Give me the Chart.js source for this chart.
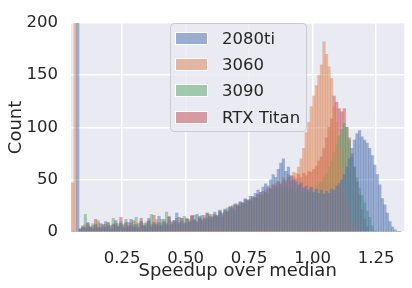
<!DOCTYPE html>
<html>
<head>
<meta charset="utf-8">
<script src="https://cdn.jsdelivr.net/npm/chart.js@4/dist/chart.umd.min.js"></script>
<style>
  body { margin: 0; background: #fff; }
  #wrap { position: relative; width: 412px; height: 288px; }
  #legend {
    position: absolute; left: 170px; top: 23px; width: 137px; height: 109px;
    box-sizing: border-box; padding-top: 1px;
    background: rgba(234, 234, 242, 0.8); border: 1px solid #cccccc; border-radius: 4px;
    font-family: 'DejaVu Sans', sans-serif; font-size: 16.5px; color: #262626;
  }
  .row { display: flex; align-items: center; height: 26.3px; }
  .patch { width: 31px; height: 11px; margin-left: 4px; margin-right: 14px; border: 1px solid #fff; }
</style>
</head>
<body>
<div id="wrap">
  <canvas id="histChart" width="412" height="288"></canvas>
  <div id="legend"></div>
</div>
<script>
// histogram bins: 0.05 .. 1.35, width 0.01
const binStart = 0.05;
const binWidth = 0.01;
const xTicks = [0.25, 0.5, 0.75, 1.0, 1.25];
const yTicks = [0, 50, 100, 150, 200];

const gpus = ['2080ti', '3060', '3090', 'RTX Titan'];
const gpuColors = ['76, 114, 176', '221, 132, 82', '85, 168, 104', '196, 78, 82'];

const counts2080ti = [
  0, 0, 260, 3, 6, 4, 9, 5, 3, 7,
  4, 8, 5, 10, 6, 3, 7, 11, 5, 8,
  4, 9, 6, 12, 5, 7, 4, 10, 6, 8,
  13, 5, 9, 7, 15, 6, 10, 8, 14, 7,
  11, 18, 9, 13, 8, 12, 10, 15, 11, 17,
  13, 16, 12, 18, 15, 14, 19, 16, 21, 18,
  22, 20, 24, 23, 27, 25, 29, 28, 31, 30,
  34, 33, 37, 40, 38, 43, 46, 44, 50, 55,
  52, 60, 66, 70, 58, 62, 54, 50, 48, 45,
  47, 42, 44, 40, 43, 38, 41, 37, 40, 36,
  39, 37, 41, 40, 44, 46, 50, 55, 62, 70,
  80, 88, 94, 97, 91, 88, 85, 80, 73, 64,
  55, 45, 32, 26, 18, 10, 5, 2, 0, 0
];
const counts3060 = [
  47, 260, 0, 2, 4, 7, 3, 5, 2, 6,
  9, 4, 3, 7, 5, 2, 8, 4, 6, 3,
  5, 8, 4, 6, 3, 9, 5, 7, 4, 10,
  6, 8, 5, 12, 7, 4, 9, 6, 11, 8,
  7, 10, 6, 13, 9, 12, 8, 15, 11, 9,
  14, 12, 16, 10, 13, 17, 15, 12, 18, 16,
  20, 18, 22, 25, 21, 27, 24, 28, 26, 30,
  29, 33, 31, 35, 38, 34, 40, 37, 42, 44,
  46, 48, 45, 52, 50, 55, 53, 57, 56, 62,
  70, 80, 95, 105, 120, 130, 140, 150, 160, 182,
  170, 158, 147, 120, 105, 80, 60, 42, 28, 18,
  10, 5, 2, 0, 0, 0, 0, 0, 0, 0,
  0, 0, 0, 0, 0, 0, 0, 0, 0, 0
];
const counts3090 = [
  0, 0, 0, 1, 4, 17, 6, 3, 8, 5,
  11, 4, 7, 3, 9, 6, 13, 5, 8, 10,
  6, 12, 4, 9, 7, 14, 5, 10, 8, 6,
  11, 17, 7, 9, 5, 12, 8, 19, 6, 10,
  9, 13, 7, 11, 15, 8, 12, 10, 16, 9,
  14, 11, 13, 18, 12, 15, 17, 14, 20, 16,
  19, 23, 21, 25, 20, 26, 24, 28, 27, 31,
  30, 29, 33, 32, 36, 35, 38, 37, 40, 39,
  42, 40, 44, 41, 43, 39, 42, 40, 38, 41,
  39, 37, 40, 38, 42, 40, 44, 46, 48, 52,
  56, 62, 68, 76, 84, 92, 98, 104, 100, 88,
  72, 62, 52, 42, 35, 28, 20, 14, 6, 1,
  0, 0, 0, 0, 0, 0, 0, 0, 0, 0
];
const countsTitan = [
  0, 0, 0, 3, 5, 2, 8, 4, 6, 12,
  5, 3, 7, 4, 9, 6, 3, 8, 5, 14,
  7, 4, 9, 6, 11, 5, 8, 13, 6, 4,
  10, 7, 16, 5, 9, 8, 12, 6, 15, 9,
  11, 8, 14, 10, 7, 13, 9, 16, 12, 10,
  15, 11, 14, 13, 17, 12, 16, 15, 19, 14,
  21, 19, 24, 22, 26, 25, 28, 27, 32, 29,
  31, 34, 33, 36, 35, 39, 38, 42, 41, 45,
  44, 48, 46, 50, 47, 52, 49, 53, 51, 55,
  52, 56, 54, 58, 57, 60, 63, 68, 72, 80,
  90, 100, 108, 130, 124, 118, 115, 118, 100, 90,
  75, 62, 48, 35, 22, 12, 5, 0, 0, 0,
  0, 0, 0, 0, 0, 0, 0, 0, 0, 0
];
const allCounts = [counts2080ti, counts3060, counts3090, countsTitan];

const toPoints = arr => arr.map((v, i) => ({ x: binStart + binWidth * (i + 0.5), y: v }));

const plotBackground = {
  id: 'plotBackground',
  beforeDraw(chart) {
    const { ctx, chartArea: a } = chart;
    ctx.save();
    ctx.fillStyle = '#eaeaf2';
    ctx.fillRect(a.left, a.top, a.right - a.left, a.bottom - a.top);
    ctx.restore();
  }
};

Chart.defaults.font.family = "'DejaVu Sans', sans-serif";
Chart.defaults.color = '#262626';

const ctx = document.getElementById('histChart').getContext('2d');
new Chart(ctx, {
  type: 'bar',
  data: {
    datasets: gpus.map((name, k) => ({
      label: name,
      data: toPoints(allCounts[k]),
      backgroundColor: 'rgba(' + gpuColors[k] + ', 0.5)',
      borderWidth: 0,
      barPercentage: 1,
      categoryPercentage: 1,
      grouped: false
    }))
  },
  options: {
    responsive: false,
    animation: false,
    layout: { padding: { top: 14, right: 7, left: 0, bottom: 0 } },
    plugins: { legend: { display: false }, tooltip: { enabled: false } },
    scales: {
      x: {
        type: 'linear',
        offset: false,
        min: 0.0484,
        max: 1.3612,
        afterFit: s => { s.height = 56; },
        afterBuildTicks: s => { s.ticks = xTicks.map(v => ({ value: v })); },
        grid: { color: '#ffffff', lineWidth: 1.5, drawTicks: false, offset: false },
        border: { display: false },
        ticks: {
          padding: 17,
          font: { size: 16.5 },
          callback: v => v.toFixed(2)
        },
        title: { display: true, text: 'Speedup over median', font: { size: 18 }, padding: { top: 0, bottom: 6 } }
      },
      y: {
        min: 0,
        max: 200,
        afterFit: s => { s.width = 71; },
        afterBuildTicks: s => { s.ticks = yTicks.map(v => ({ value: v })); },
        grid: { color: '#ffffff', lineWidth: 1.5, drawTicks: false },
        border: { display: false },
        ticks: { padding: 13, font: { size: 16.5 } },
        title: { display: true, text: 'Count', font: { size: 18 }, padding: { top: 6, bottom: 0 } }
      }
    }
  },
  plugins: [plotBackground]
});

// legend inside the plot, like the seaborn one
const legend = document.getElementById('legend');
gpus.forEach((name, k) => {
  const row = document.createElement('div');
  row.className = 'row';
  const patch = document.createElement('span');
  patch.className = 'patch';
  patch.style.background = 'rgba(' + gpuColors[k] + ', 0.5)';
  const label = document.createElement('span');
  label.textContent = name;
  row.appendChild(patch);
  row.appendChild(label);
  legend.appendChild(row);
});
</script>
</body>
</html>
